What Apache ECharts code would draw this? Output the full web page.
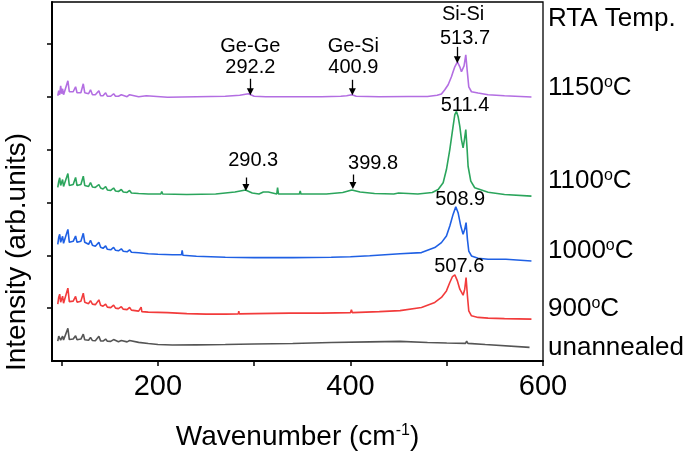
<!DOCTYPE html>
<html><head><meta charset="utf-8">
<script src="https://cdn.jsdelivr.net/npm/echarts@6/dist/echarts.min.js"></script>
<style>html,body{margin:0;padding:0;background:#fff}#c{width:685px;height:456px}</style>
</head><body><div id="c"></div>
<script>
// Raman spectra, [wavenumber (cm-1), stacked intensity (arb.)]
const unannealed = [[96,20],[97,25],[98,27],[99,21],[100,23],[101,25],[102,21],[103,22],[104,21.3],[106.5,32.7],[108,21.5],[110,21.3],[112,22],[114.5,25.3],[116,21.3],[118,21.3],[120,22],[122.5,27],[124,21.3],[126,21],[128,20.8],[130,23.7],[132,20.5],[135,20.3],[138.7,24.7],[140.5,20.2],[143,20],[145.7,22],[147.5,19.8],[151,19.7],[154,21.5],[156,19.5],[159,19.4],[162,20.5],[164,19.3],[168,19.2],[170.6,20.5],[172.5,19],[180,18.7],[190,17.5],[200,16.5],[215,16],[240,16.2],[270,16.5],[300,17],[340,17.5],[380,18.5],[420,19.2],[451.5,19.7],[480,18.5],[500,18],[519.5,17.7],[520.7,19.8],[522,17.7],[540,16.5],[586,13.7]];
const t900 = [[96,57],[97,64],[98,67],[99,59],[100,62],[101,65],[102,58],[103,60],[104,59],[106.5,73],[108,59.5],[110,59],[112,60],[114.5,64.7],[116,59],[118,59],[120,60],[122.5,68],[124,59],[126,58],[128,57.5],[130,60.5],[132,57],[135,56.5],[138.7,61.3],[140.5,56],[143,55],[145.7,57],[147.5,54],[151,53.5],[154,56],[156,53],[159,52.5],[162,54.5],[164,52],[168,51.5],[170.6,53.7],[172.5,51],[180,50],[182,50],[182.6,54],[183.3,49.5],[190,49],[210,48.5],[230,47.5],[250,47],[270,47],[283.5,47.3],[284,50],[284.6,47.3],[300,47.5],[337,48],[370,48],[400,48.5],[401,51.5],[402,48.5],[430,49.5],[451.5,50.5],[473.8,53.7],[487.6,58.7],[494.5,63.7],[499.7,70.3],[503.2,78.7],[506,84.7],[508.4,86.3],[511.1,80.3],[513.6,72],[517,66],[518.7,72],[520.1,83.7],[521.5,65.3],[522.9,50.3],[525.7,45.3],[532.6,43.7],[543,43],[560,42.5],[588,42]];
const t1000 = [[96,117],[97,124],[98,127],[99,119],[100,122],[101,125],[102,118],[103,120],[104,119],[106.5,132],[108,119],[110,119],[112,120],[114.5,125.3],[116,119],[118,119],[120,120],[122.5,128],[124,119],[126,118],[128,117],[130,121],[132,116],[135,115],[138.7,119],[140.5,114],[143,113],[145.7,115.5],[147.5,112],[151,111.5],[154,114],[156,111],[159,110.5],[162,112.5],[164,110],[168,109.5],[170.6,111.5],[172.5,109],[180,108.5],[190,107.5],[200,107],[215,106.5],[224.5,106.5],[225.2,111],[226,106],[240,105],[270,104],[300,103.7],[340,103.7],[380,104],[400,104.5],[420,105.5],[451.5,107.5],[473.8,108.7],[487.6,113.7],[494.5,118.7],[499.7,125.3],[503.2,135.3],[506.6,147],[509.4,154.7],[511.8,148.7],[514.6,135.3],[517,127],[518.7,132],[520.1,138.7],[521.5,122],[522.9,110.3],[525.7,105.3],[532.6,103],[543,102],[561.5,102],[562,104],[562.5,102],[588,100.3]];
const t1100 = [[96,174],[97,180],[98,183.7],[99,176],[100,179],[101,182],[102,175],[103,177],[104,176],[106.5,188],[108,176],[110,176],[112,177],[114.5,184],[116,176],[118,176],[120,177],[122.5,185.3],[124,176],[126,175.5],[128,175],[130,179],[132,174.5],[135,174],[138.7,177],[140.5,173.5],[143,172.5],[145.7,175],[147.5,171.5],[151,171],[154,173.5],[156,170.5],[159,170],[162,172],[164,169.5],[168,169],[170.6,171],[172.5,168.5],[180,168],[190,167.5],[203,167.5],[204,170],[205,167.5],[230,167],[260,167.5],[280,169.5],[291,171.5],[298,168.5],[305,167.5],[309.5,169.5],[310.5,167.5],[314.7,169.5],[315.7,167.5],[323.5,167.5],[324.3,174],[325.2,167.5],[327,169],[328,167.5],[347,167.5],[347.8,170.5],[348.6,167.5],[375,167.5],[392,169],[401.4,171.5],[410,169.5],[425,168],[445,167.5],[450,168.5],[451,167.5],[470,167.5],[485,169],[491.1,172],[496.3,178.7],[499.7,192],[503.2,212],[506.6,235.3],[508.4,247],[510.1,250.3],[511.8,245.3],[513.6,235.3],[515.3,222],[517,213.7],[518.4,222],[519.8,232],[521.2,212],[522.2,195.3],[525,180.3],[529.1,173.7],[543,169.3],[560,167],[588,165.3]];
const t1150 = [[96,266],[97,271],[98,267],[99,276],[100,268],[101,273],[102,267],[103,270],[104,268],[105,270],[106.5,281],[108,270],[110,269],[112,270],[114.5,275],[116,269],[118,270],[120,269],[122.5,278],[124,269],[126,269],[128,268],[130,272],[132,267],[135,267],[138.7,271],[140.5,266],[143,266],[145.7,269],[147.5,265.5],[151,265.5],[154,268],[156,265.5],[159,265.5],[162,267],[164,265],[168,265],[170.6,267],[172.5,265],[180,265],[188,266],[190,265],[210,264.5],[240,265],[270,265.5],[285,266.5],[294,268],[300,265.5],[312,265],[313,266],[314,265],[340,265],[370,265],[390,265.5],[396,266],[396.5,268],[397,266],[401.4,267],[406,265.5],[430,265],[460,265.2],[480,265.3],[490,266.5],[494.5,267.7],[498,272],[501.5,277],[504.9,285],[506.6,290],[508.4,295],[511.1,300],[513.6,295],[515.3,290],[516.3,289],[518,296],[519.8,307],[521.2,292],[522.9,275],[525.7,270],[532.6,268.7],[543,267],[560,266],[588,264.7]];

const seriesList = [unannealed, t900, t1000, t1100, t1150];
const seriesNames = ['unannealed', '900°C', '1000°C', '1100°C', '1150°C'];
const colors = ['#555555', '#f23b3b', '#1f60e4', '#2ba55c', '#b36ee2'];

const xTicks = [100, 200, 300, 400, 500, 600];
const xTickLabels = [200, 400, 600];
const yTicks = [53, 106, 159, 212, 265, 318];

// peak annotation texts: [text, wavenumber, intensity]
const peakTexts = [
  ['Ge-Ge', 296, 315], ['292.2', 296, 294],
  ['Ge-Si', 403, 315], ['400.9', 403, 294],
  ['Si-Si', 517, 347], ['513.7', 519, 323],
  ['511.4', 519, 256],
  ['290.3', 299, 201], ['399.8', 423.5, 198],
  ['508.9', 514, 162], ['507.6', 513, 95]
];
// arrows: [wavenumber, from, to]
const arrows = [[296, 283, 270], [402, 282, 270], [511, 315, 302], [291.4, 184, 174], [402.5, 187, 176]];

// right-side labels: [text, centre y in px]
const sideLabels = [
  ['RTA Temp.', 19], ['1150{s|o}C', 88], ['1100{s|o}C', 181], ['1000{s|o}C', 251], ['900{s|o}C', 309], ['unannealed', 348]
];

const FONT = 'Liberation Sans, Arial, sans-serif';
const chart = echarts.init(document.getElementById('c'), null, {renderer: 'canvas'});

const series = seriesList.map((d, i) => ({
  name: seriesNames[i], type: 'line', data: d, showSymbol: false, symbol: 'none',
  lineStyle: {color: colors[i], width: 1.6}, itemStyle: {color: colors[i]}, silent: true, animation: false, z: 3
}));
series.push({
  type: 'scatter', symbolSize: 0, silent: true, animation: false, z: 5,
  itemStyle: {color: '#000'},
  data: peakTexts.map(p => ({name: p[0], value: [p[1], p[2]]})),
  label: {show: true, position: 'inside', formatter: '{b}', color: '#000', fontSize: 20, fontFamily: FONT,
    textBorderWidth: 0, textBorderColor: 'transparent', opacity: 1},
  markLine: {
    silent: true, animation: false, symbol: ['none', 'triangle'], symbolSize: 7,
    label: {show: false}, lineStyle: {color: '#000', width: 1.3, type: 'solid', opacity: 1},
    itemStyle: {color: '#000'},
    data: arrows.map(a => [{coord: [a[0], a[1]]}, {coord: [a[0], a[2]]}])
  }
});

const graphic = sideLabels.map(s => ({
  type: 'text', left: 548, top: s[1] - 13, silent: true,
  style: {text: s[0], fontSize: 26, fontFamily: FONT, fill: '#000',
    rich: {s: {fontSize: 16, lineHeight: 8, verticalAlign: 'top', fontFamily: FONT, fill: '#000'}}}
}));
graphic.push({
  type: 'text', x: 3, y: 252, rotation: Math.PI / 2, silent: true,
  style: {text: 'Intensity (arb.units)', fontSize: 28, fontFamily: FONT, fill: '#000', align: 'center', verticalAlign: 'top'}
});

chart.setOption({
  animation: false,
  backgroundColor: '#fff',
  grid: {left: 52, right: 142, top: 2, bottom: 94, show: true, borderColor: '#000', borderWidth: 1.3},
  xAxis: {
    type: 'value', min: 90, max: 600,
    name: 'Wavenumber (cm{s|-1})', nameLocation: 'middle', nameGap: 62,
    nameTextStyle: {fontSize: 28, fontFamily: FONT, color: '#000', rich: {s: {fontSize: 16, lineHeight: 10, verticalAlign: 'top', fontFamily: FONT, color: '#000'}}},
    axisLine: {show: true, onZero: false, lineStyle: {color: '#000', width: 2}},
    axisTick: {show: true, inside: false, length: 5, customValues: xTicks, lineStyle: {color: '#000', width: 1.5}},
    axisLabel: {show: true, customValues: xTickLabels, fontSize: 29, fontFamily: FONT, color: '#000', margin: 11},
    splitLine: {show: false}
  },
  yAxis: {
    type: 'value', min: 0, max: 360,
    axisLine: {show: true, onZero: false, lineStyle: {color: '#000', width: 2}},
    axisTick: {show: true, inside: false, length: 5, customValues: yTicks, lineStyle: {color: '#000', width: 1.5}},
    axisLabel: {show: false},
    splitLine: {show: false}
  },
  series: series,
  graphic: graphic
});
</script></body></html>
